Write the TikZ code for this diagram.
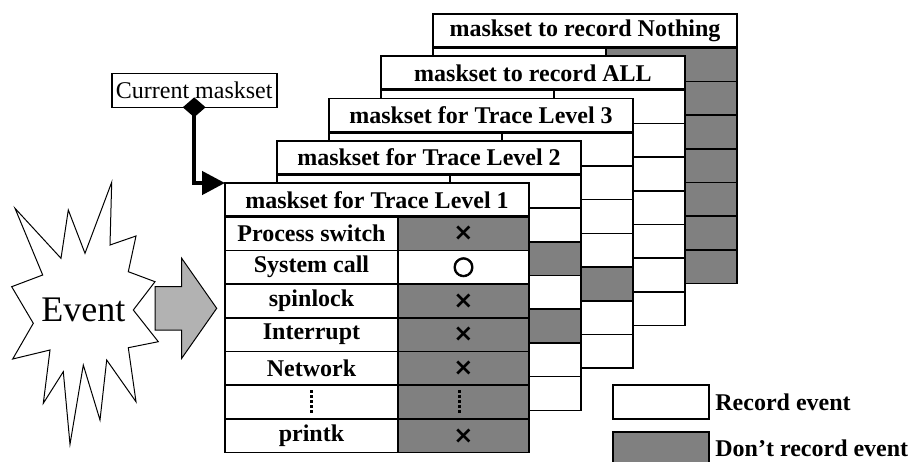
\documentclass[tikz,border=0pt]{standalone}
\usepackage{fontspec}
\setmainfont{Liberation Serif}
\newfontfamily\cellsymfont{DejaVu Sans}
\newfontfamily\ringfont[FakeBold=3]{DejaVu Sans}
\usetikzlibrary{arrows.meta,positioning,shapes.geometric}

\definecolor{maskgray}{RGB}{128,128,128}
\definecolor{arrowgray}{RGB}{178,178,178}

\tikzset{
    grid/.style={draw, line width=1.6pt, inner sep=0pt, outer sep=0pt, minimum height=33.7pt},
    titlebox/.style={grid, fill=white, minimum width=304pt, font=\fontsize{24}{28}\selectfont\bfseries},
    lcell/.style={grid, fill=white, minimum width=173pt},
    rcell/.style={grid, minimum width=131pt},
    rowlabel/.style={inner sep=0pt, font=\fontsize{24}{28}\selectfont\bfseries},
    marklabel/.style={inner sep=0pt, font=\fontsize{24}{28}\selectfont\cellsymfont\bfseries},
    dotline/.style={line width=2.5pt, dash pattern=on 2.5pt off 2.5pt},
    legbox/.style={draw, line width=1.6pt, outer sep=0pt, minimum width=96pt, minimum height=34pt},
}

% one maskset: name, top left corner, title, fills of the right column
\newcommand{\masktable}[4]{%
    \node[titlebox, anchor=north west] (#1) at (#2) {#3};
    \foreach \f [count=\r] in {#4} {
        \node[lcell, anchor=north west] (#1-l\r) at ([yshift={-33.7*(\r-1)}]#1.south west) {};
        \node[rcell, fill=\f, right=0pt of #1-l\r] (#1-r\r) {};
    }%
    \draw[line width=3.4pt] (#1.south west) -- (#1.south east);
}

\begin{document}
\begin{tikzpicture}[x=1pt, y=-1pt]
    \useasboundingbox (0,0) rectangle (912,461);

    % Masksets, back to front
    \masktable{none}{433,14}{maskset to record Nothing}{maskgray,maskgray,maskgray,maskgray,maskgray,maskgray,maskgray}
    \masktable{all}{381,56}{maskset to record ALL}{white,white,white,white,white,white,white}
    \masktable{lvthree}{329,98.5}{maskset for Trace Level 3}{white,white,white,white,maskgray,white,white}
    \masktable{lvtwo}{277,140.7}{maskset for Trace Level 2}{white,white,maskgray,white,maskgray,white,white}
    \masktable{lvone}{225,183}{maskset for Trace Level 1}{maskgray,white,maskgray,maskgray,maskgray,maskgray,maskgray}

    % Events of the front maskset
    \foreach \r/\lab in {1/Process switch, 2/System call, 3/spinlock, 4/Interrupt, 5/Network, 7/printk}
        \node[rowlabel] (lab\r) at (lvone-l\r) {\lab};
    \foreach \r in {1,3,4,5,7}
        \node[marklabel] (mark\r) at (lvone-r\r) {×};
    \node[inner sep=0pt, font=\fontsize{25}{28}\selectfont\ringfont] (mark2) at (lvone-r2) {○};
    \draw[dotline] ([yshift=12pt]lvone-l6.center) -- ([yshift=-12pt]lvone-l6.center);
    \draw[dotline] ([xshift=-4pt, yshift=12pt]lvone-r6.center) -- ([xshift=-4pt, yshift=-12pt]lvone-r6.center);

    % Current maskset pointer
    \node[draw, line width=1.6pt, minimum width=165pt, minimum height=34pt, inner sep=0pt, outer sep=0pt,
          font=\fontsize{24}{28}\selectfont] (cur) at (194.2,90.3) {Current maskset};
    \draw[line width=4.5pt, -{Triangle[length=23pt, width=23pt]}] (cur.south) |- (lvone.north west);
    \node[diamond, fill=black, minimum width=23pt, minimum height=20pt, inner sep=0pt] (pin) at (cur.south) {};

    % Event burst
    \draw[line width=1pt, fill=white] (111.7,182.3) -- (110,245) -- (136,236) -- (128.3,271.7) -- (155,281.7)
        -- (133.3,310) -- (158.3,341.7) -- (128.3,347.7) -- (136,401.7) -- (106.7,360) -- (100,420)
        -- (83.3,365) -- (70,444.3) -- (63.3,371.7) -- (43.3,403.3) -- (50,350) -- (12.7,359)
        -- (33.3,323.3) -- (11.7,286.7) -- (42.7,275) -- (15,208.3) -- (61,258.3) -- (68.3,210)
        -- (85,253.3) -- cycle;
    \node[font=\fontsize{36}{40}\selectfont] (event) at (83.3,310) {Event};

    % Block arrow into the maskset
    \draw[line width=1pt, fill=arrowgray] (155,286.7) -- (181.7,286.7) -- (181.7,258.3) -- (216.7,308.3)
        -- (181.7,358.3) -- (181.7,330) -- (155,330) -- cycle;

    % Legend
    \node[legbox, fill=white] (legrec) at (661.2,402.2) {};
    \node[right=6pt of legrec, rowlabel] (legrectext) {Record event};
    \node[legbox, fill=maskgray] (legskip) at (661.2,448.7) {};
    \node[right=6pt of legskip, rowlabel] (legskiptext) {Don’t record event};
\end{tikzpicture}
\end{document}
